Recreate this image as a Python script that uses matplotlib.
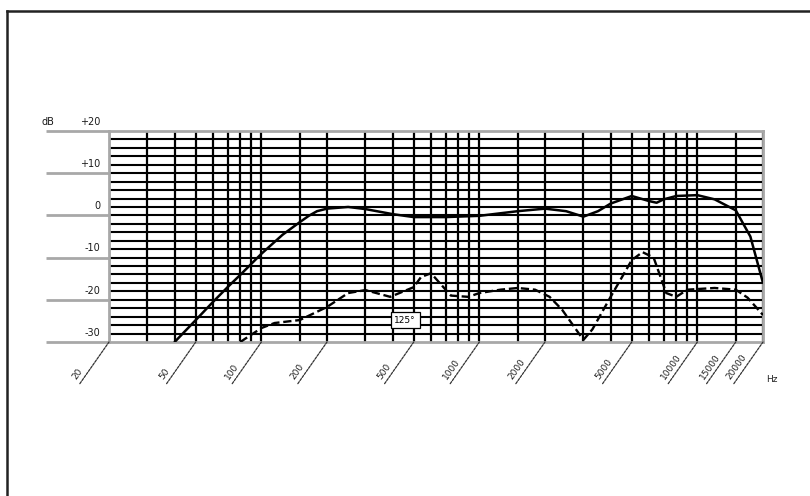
import numpy as np
import matplotlib
matplotlib.use("Agg")
import matplotlib.pyplot as plt
from matplotlib.lines import Line2D
import matplotlib.transforms as mtrans

# frequency response, 0 deg (solid) and 125 deg (dashed)
freq_0 = [40, 50, 60, 70, 80, 100, 125, 150, 165, 180, 200, 250, 300, 400, 500, 700,
          1000, 1500, 2000, 2500, 3000, 3500, 4000, 5000, 6000, 6500, 7000, 8000,
          10000, 12000, 15000, 17500, 20000]
db_0 = [-30, -24.8, -20.5, -17.0, -14.1, -9.1, -4.6, -1.6, -0.1, 1.0, 1.6, 2.0, 1.5,
        0.3, -0.4, -0.4, -0.1, 1.0, 1.6, 1.0, -0.3, 1.0, 2.8, 4.6, 3.4, 3.0, 3.8,
        4.6, 4.8, 3.8, 1.2, -5.0, -16.0]

freq_125 = [80, 100, 115, 150, 200, 250, 300, 390, 500, 540, 600, 740, 890, 1000,
            1250, 1500, 1800, 2100, 2400, 3000, 3300, 4000, 5000, 5600, 6300, 7200,
            8000, 9000, 12000, 15000, 17000, 20000]
db_125 = [-30, -26.7, -25.5, -24.8, -21.7, -18.4, -17.7, -19.3, -17.0, -14.6, -13.7,
          -19.0, -19.3, -18.4, -17.6, -17.2, -17.6, -19.3, -22.4, -29.5, -27.0, -19.3,
          -10.6, -8.7, -10.0, -18.4, -19.3, -17.6, -17.2, -17.6, -19.5, -23.6]

grid_freqs = [20, 30, 40, 50, 60, 70, 80, 90, 100, 150, 200, 300, 400, 500, 600,
              700, 800, 900, 1000, 1500, 2000, 3000, 4000, 5000, 6000, 7000, 8000,
              9000, 10000, 15000, 20000]
label_freqs = [20, 50, 100, 200, 500, 1000, 2000, 5000, 10000, 15000, 20000]
major_db = [20, 10, 0, -10, -20, -30]
major_labels = ["+20", "+10", "0", "-10", "-20", "-30"]

W, H = 810, 496
fig = plt.figure(figsize=(W / 100, H / 100), dpi=100)
ax = fig.add_axes([109 / W, 1 - 342 / H, 654 / W, 211 / H])
ax.set_xscale("log")
ax.set_xlim(20, 20000)
ax.set_ylim(-30, 20)
ax.set_xticks([])
ax.set_yticks([])
ax.minorticks_off()
for s in ax.spines.values():
    s.set_color("#a8a8a8")
    s.set_linewidth(2.0)

# grid
for d in range(-28, 20, 2):
    ax.axhline(d, color="black", lw=1.5, zorder=1)
for f in grid_freqs:
    ax.axvline(f, color="black", lw=1.6, zorder=1)

# gray major lines running out to the left with dB labels
trans = mtrans.blended_transform_factory(ax.transAxes, ax.transData)
for d, lab in zip(major_db, major_labels):
    ax.plot([-0.097, 0], [d, d], color="#a8a8a8", lw=2.0, transform=trans,
            clip_on=False, solid_capstyle="butt")
    ax.annotate(lab, xy=(-0.013, d), xycoords=trans, xytext=(0, 3),
                textcoords="offset points", ha="right", va="bottom",
                fontsize=7, color="#1a1a1a")
ax.annotate("dB", xy=(-0.097, 20), xycoords=trans, xytext=(-3, 3),
            textcoords="offset points", ha="left", va="bottom",
            fontsize=7, color="#1a1a1a")

# curves
ax.plot(freq_0, db_0, color="black", lw=1.8, zorder=3, solid_capstyle="round",
        solid_joinstyle="round")
ax.plot(freq_125, db_125, color="black", lw=1.7, zorder=3, dashes=(3.5, 1.6))

ax.text(457, -24.8, "125°", ha="center", va="center", fontsize=6.5, zorder=4,
        bbox=dict(boxstyle="square,pad=0.4", fc="white", ec="black", lw=0.9))

# slanted frequency labels below the grid
for f in label_freqs:
    ax.annotate("", xy=(f, -30), xycoords="data", xytext=(-21, -30),
                textcoords="offset points",
                arrowprops=dict(arrowstyle="-", color="#333333", lw=0.9,
                                linestyle=(0, (2, 1)), shrinkA=0, shrinkB=0))
    ax.annotate(str(f), xy=(f, -30), xycoords="data", xytext=(-22, -28.5),
                textcoords="offset points", rotation=55, rotation_mode="anchor",
                ha="left", va="bottom", fontsize=6.5, color="#222222")

fig.text(772 / W, 1 - 380 / H, "Hz", ha="center", va="center", fontsize=6.5,
         color="#222222")

# outer frame (top and left only)
fig.add_artist(Line2D([7 / W, 1], [1 - 11 / H, 1 - 11 / H], color="#222222",
                      lw=1.8, transform=fig.transFigure))
fig.add_artist(Line2D([7 / W, 7 / W], [0, 1 - 11 / H], color="#222222",
                      lw=1.8, transform=fig.transFigure))

fig.savefig("out.png", dpi=100)
